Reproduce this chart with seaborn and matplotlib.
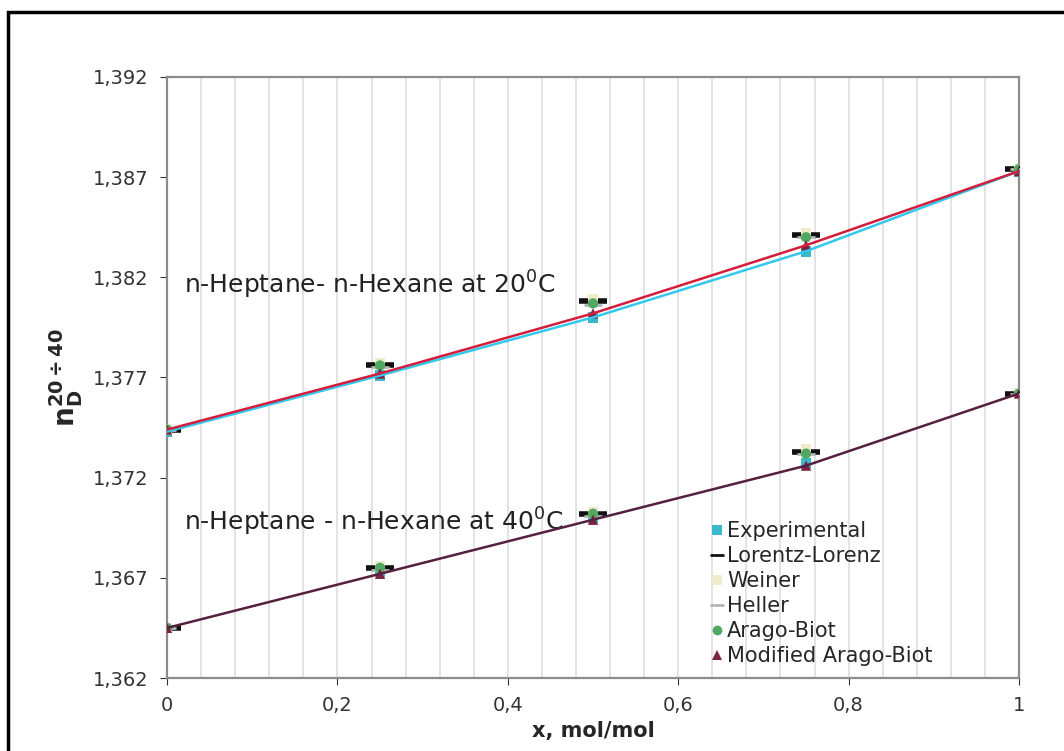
import matplotlib as mpl
mpl.use('agg')
import matplotlib.pyplot as plt
from matplotlib.ticker import MultipleLocator, FixedLocator, FuncFormatter
from matplotlib.lines import Line2D
from matplotlib.patches import Rectangle
import numpy as np
import pandas as pd
import seaborn as sns

# Mole fraction of n-heptane
x = [0, 0.25, 0.5, 0.75, 1]

# Refractive index at 20 C
exp20 = [1.3743, 1.3771, 1.3800, 1.3833, 1.3873]
ll20 = [1.3744, 1.3776, 1.3808, 1.3841, 1.3874]
weiner20 = [1.3744, 1.3777, 1.3809, 1.3842, 1.3874]
heller20 = [1.3744, 1.3775, 1.3806, 1.3840, 1.3874]
arago20 = [1.3744, 1.3776, 1.3807, 1.3840, 1.3874]
mab20 = [1.3744, 1.3772, 1.3802, 1.3836, 1.3873]

# Refractive index at 40 C
exp40 = [1.3645, 1.3673, 1.3700, 1.3727, 1.3762]
ll40 = [1.3645, 1.3675, 1.3702, 1.3733, 1.3762]
weiner40 = [1.3645, 1.3676, 1.3703, 1.3734, 1.3762]
heller40 = [1.3645, 1.3674, 1.3701, 1.3732, 1.3762]
arago40 = [1.3645, 1.3675, 1.3702, 1.3732, 1.3762]
mab40 = [1.3645, 1.3672, 1.3699, 1.3726, 1.3762]

y_ticks = [1.362, 1.367, 1.372, 1.377, 1.382, 1.387, 1.392]

series = ['Experimental', 'Lorentz-Lorenz', 'Weiner', 'Heller', 'Arago-Biot', 'Modified Arago-Biot']
vals20 = [exp20, ll20, weiner20, heller20, arago20, mab20]
vals40 = [exp40, ll40, weiner40, heller40, arago40, mab40]

rows = []
for name, v20, v40 in zip(series, vals20, vals40):
    for xi, a, b in zip(x, v20, v40):
        rows.append({'x': xi, 'n': a, 'T': '20', 'series': name})
        rows.append({'x': xi, 'n': b, 'T': '40', 'series': name})
df = pd.DataFrame(rows)

sns.set_style("white")
plt.rcParams['font.family'] = ['DejaVu Sans']

fig = plt.figure(figsize=(10.64, 7.51), dpi=100)
ax = fig.add_axes([0.157, 0.0972, 0.8007, 0.8003])

styles = {
    'Experimental': dict(marker='s', color='#3ab7c8', s=60),
    'Lorentz-Lorenz': dict(marker='_', color='#111111', s=420, linewidth=4),
    'Weiner': dict(marker='s', color='#efeccc', s=55),
    'Heller': dict(marker='_', color='#b5b5b5', s=150, linewidth=2),
    'Arago-Biot': dict(marker='o', color='#52a860', s=55),
    'Modified Arago-Biot': dict(marker='^', color='#7d2340', s=55),
}

# markers first, lines over them like in the original
for name in series:
    st = dict(styles[name])
    d = df[df['series'] == name]
    lw = st.pop('linewidth', 0)
    sns.scatterplot(data=d, x='x', y='n', ax=ax, zorder=3, edgecolor=st['color'] if lw else 'none',
                    linewidth=lw, **st)

line_specs = [('20', 'Experimental', '#33c8ee'), ('20', 'Modified Arago-Biot', '#d41c3c'),
              ('40', 'Modified Arago-Biot', '#55203f')]
for t, name, col in line_specs:
    d = df[(df['T'] == t) & (df['series'] == name)]
    sns.lineplot(data=d, x='x', y='n', color=col, lw=1.8, ax=ax, zorder=4)

ax.set_xlim(0, 1)
ax.set_ylim(1.362, 1.392)
ax.yaxis.set_major_locator(FixedLocator(y_ticks))
ax.xaxis.set_major_locator(MultipleLocator(0.2))
ax.xaxis.set_minor_locator(MultipleLocator(0.04))
ax.grid(True, axis='x', which='both', color='#e0e0e0', lw=1.3)
ax.grid(False, axis='y')

fmt_y = FuncFormatter(lambda v, p: f"{v:.3f}".replace('.', ','))
fmt_x = FuncFormatter(lambda v, p: ('%g' % round(v, 2)).replace('.', ','))
ax.yaxis.set_major_formatter(fmt_y)
ax.xaxis.set_major_formatter(fmt_x)
ax.tick_params(axis='both', which='major', labelsize=14, colors='#333333', length=5, direction='out',
               left=True, bottom=True, pad=8)
ax.tick_params(axis='x', which='minor', length=0)
for sp in ax.spines.values():
    sp.set_color('#8c8c8c')
    sp.set_linewidth(1.6)

ax.set_xlabel('x, mol/mol', fontsize=15, fontweight='bold', labelpad=4)
ax.set_ylabel(r'$\mathbf{n_D^{20\div40}}$', fontsize=20, labelpad=6)

ax.text(0.02, 1.3816, r'n-Heptane- n-Hexane at 20$^0$C', fontsize=18, color='#222222', va='center')
ax.text(0.02, 1.3698, r'n-Heptane - n-Hexane at 40$^0$C', fontsize=18, color='#222222', va='center')

handles = []
for name in series:
    st = styles[name]
    handles.append(Line2D([], [], linestyle='none', marker=st['marker'], color=st['color'],
                          markersize=7 if st['marker'] != '_' else 10,
                          markeredgewidth=2 if st['marker'] == '_' else 0, label=name))
leg = ax.legend(handles=handles, loc='upper left', bbox_to_anchor=(0.658, 0.32),
                bbox_transform=fig.transFigure, frameon=False, fontsize=15,
                handlelength=0.6, handletextpad=0.2, labelspacing=0.24, borderpad=0)

# outer chart border
fig.add_artist(Rectangle((8 / 1064, -0.1), 1.2, 1.1 - 12 / 751, transform=fig.transFigure,
                         fill=False, edgecolor='black', lw=2.5))

plt.savefig('out.png', dpi=100)
